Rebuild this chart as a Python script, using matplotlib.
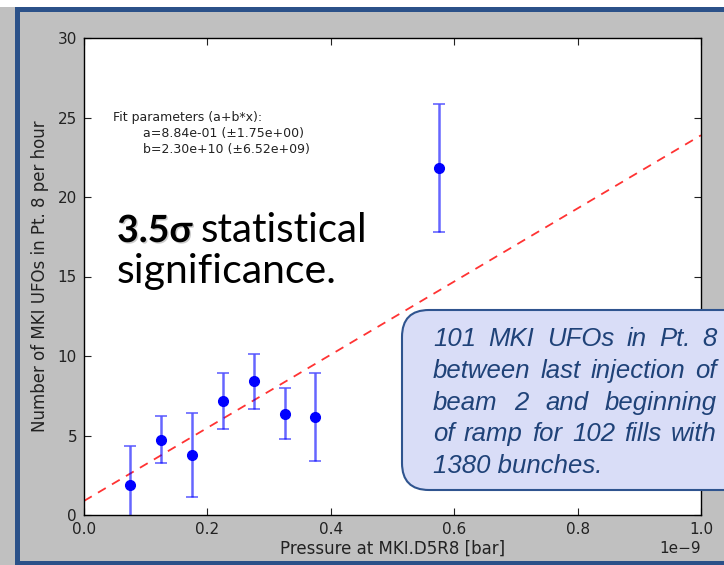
import numpy as np
import matplotlib
matplotlib.use("Agg")
from matplotlib import pyplot as plt
import matplotlib.patches as mpatches
import matplotlib.patheffects as pe

# binned MKI pressure [bar] vs UFO rate in Pt. 8 [1/h]
pressure = np.array([0.075, 0.125, 0.175, 0.225, 0.275, 0.325, 0.375, 0.575]) * 1e-9
rate = [1.9, 4.72, 3.78, 7.2, 8.4, 6.37, 6.15, 21.8]
rate_err = [2.45, 1.48, 2.65, 1.76, 1.73, 1.6, 2.78, 4.02]

# linear fit result a + b*x
fit_a, fit_a_err = 8.84e-01, 1.75e+00
fit_b, fit_b_err = 2.30e+10, 6.52e+09

box_lines = [
    "101 MKI UFOs in Pt. 8",
    "between last injection of",
    "beam 2 and beginning",
    "of ramp for 102 fills with",
    "1380 bunches.",
]

W, H = 724, 565
fig = plt.figure(figsize=(W / 100, H / 100), dpi=100, facecolor="#c0c0c0")

def px(x, y):
    return x / W, 1 - y / H

# slide frame around the plot
frame_blue = "#2b5189"
for (x0, y0, w, h, c) in [(0, 0, W, 7, "white"), (15, 7, W, 5, frame_blue),
                          (15, 7, 5, H, frame_blue), (15, H - 4, W, 4, frame_blue)]:
    fig.patches.append(mpatches.Rectangle((x0 / W, 1 - (y0 + h) / H), w / W, h / H,
                                          transform=fig.transFigure, facecolor=c,
                                          edgecolor="none", zorder=0))

ax = fig.add_axes([84 / W, 50 / H, 617 / W, 477 / H])
ax.set_facecolor("white")

xfit = np.array([0, 1e-9])
ax.plot(xfit, fit_a + fit_b * xfit, "--", color="red", alpha=0.8, lw=1.3, dashes=(5, 4))
ax.errorbar(pressure, rate, yerr=rate_err, fmt="none", ecolor="blue", alpha=0.6,
            elinewidth=1.8, capsize=4, capthick=1.2)
ax.plot(pressure, rate, "o", color="blue", ms=7, mec="blue")

ax.set_xlim(0, 1e-9)
ax.set_ylim(0, 30)
ax.set_yticks([0, 5, 10, 15, 20, 25, 30])
ax.tick_params(direction="in", top=True, right=True, length=5, width=0.8, labelsize=11,
               pad=5, colors="#222222")
for s in ax.spines.values():
    s.set_linewidth(1.0)
ax.xaxis.get_offset_text().set_fontsize(11)
ax.set_xlabel("Pressure at MKI.D5R8 [bar]", fontsize=12, labelpad=2, color="#222222")
ax.set_ylabel("Number of MKI UFOs in Pt. 8 per hour", fontsize=12, labelpad=6, color="#222222")

fit_txt = dict(transform=fig.transFigure, fontsize=9, va="center", color="#222222")
fig.text(*px(113, 118), "Fit parameters (a+b*x):", **fit_txt)
fig.text(*px(143, 134), "a=%.2e (\u00b1%.2e)" % (fit_a, fit_a_err), **fit_txt)
fig.text(*px(143, 150), "b=%.2e (\u00b1%.2e)" % (fit_b, fit_b_err), **fit_txt)

r = fig.canvas.get_renderer()
big = dict(family=["Lato", "DejaVu Sans"], va="baseline", color="black")
sig = fig.text(*px(117, 242), "3.5\u03c3", fontweight="bold", fontsize=27,
               path_effects=[pe.SimplePatchShadow(offset=(1, -1), alpha=0.2), pe.Normal()], **big)
x_after = sig.get_window_extent(r).x1 + 8
fig.text(x_after / W, 1 - 242 / H, "statistical", fontsize=29, **big)
fig.text(*px(117, 283), "significance.", fontsize=29.5, **big)

# rounded note box, running off the right edge (drawn in inches)
box = mpatches.FancyBboxPatch((4.02, (H - 490) / 100), 3.6, 1.8,
                              boxstyle="round,pad=0,rounding_size=0.27",
                              transform=fig.dpi_scale_trans, facecolor="#d9ddf7",
                              edgecolor="#2f548f", lw=1.5, zorder=5, clip_on=False)
fig.patches.append(box)

note = dict(fontsize=18.5, family="Liberation Sans", style="italic", color="#1f4278",
            va="baseline", zorder=6)
x_left, x_right = 433, 717
for i, line in enumerate(box_lines):
    y = 346 + 31.8 * i
    words = line.split()
    if i == len(box_lines) - 1:
        fig.text(*px(x_left, y), line, **note)
        continue
    # spread words so each line is fully justified
    texts = [fig.text(0, 0, w, **note) for w in words]
    widths = [t.get_window_extent(r).width for t in texts]
    gap = (x_right - x_left - sum(widths)) / (len(words) - 1)
    xc = x_left
    for t, w in zip(texts, widths):
        t.set_position(px(xc, y))
        xc += w + gap

fig.savefig("out.png", dpi=100, facecolor=fig.get_facecolor())
